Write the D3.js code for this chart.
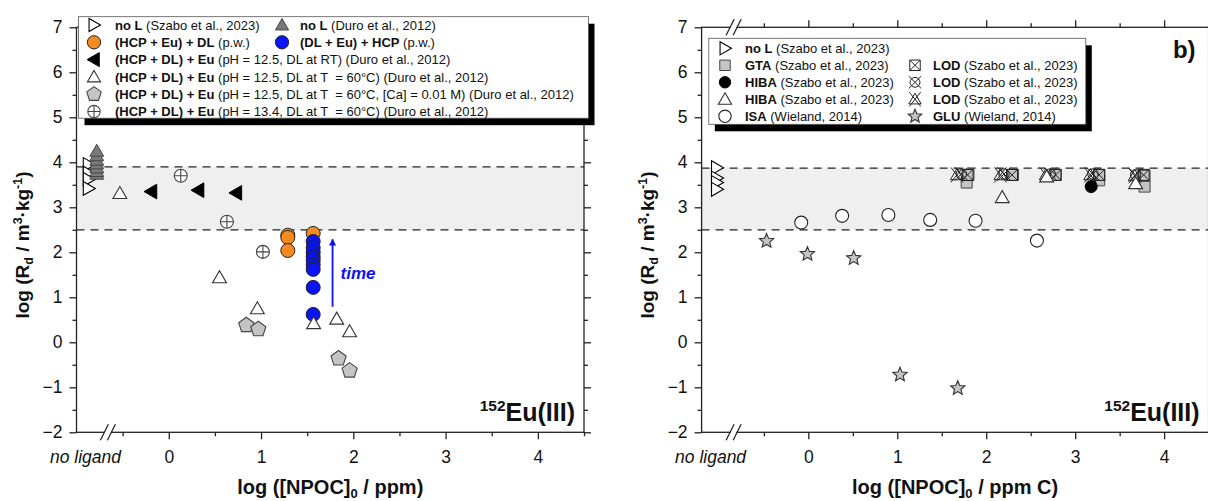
<!DOCTYPE html>
<html>
<head>
<meta charset="utf-8">
<script src="https://cdn.jsdelivr.net/npm/d3@7"></script>
<style>
  html, body { margin: 0; padding: 0; background: #fff; }
  svg { display: block; font-family: "Liberation Sans", Arial, sans-serif; }
  text { white-space: pre; }
</style>
</head>
<body>
<svg id="chart" width="1208" height="501"></svg>
<script>
// ---------- data ----------
const yTicks = [-2, -1, 0, 1, 2, 3, 4, 5, 6, 7];
const xTicks = [0, 1, 2, 3, 4];
const noLigandLabel = "no ligand";

// panel a: [log NPOC (ppm), log Rd (m3/kg)]
const aNoL_Szabo   = [[-0.87, 3.95], [-0.87, 3.76], [-0.87, 3.62], [-0.87, 3.42]];
const aNoL_Duro    = [[-0.78, 3.74], [-0.78, 3.80], [-0.78, 3.88], [-0.78, 3.97], [-0.78, 4.05], [-0.78, 4.15], [-0.78, 4.25]];
const aHcpEuDl     = [[1.29, 2.38], [1.29, 2.33], [1.29, 2.04], [1.565, 2.42]];
const aDlEuHcp     = [[1.565, 2.24], [1.565, 2.10], [1.565, 2.00], [1.565, 1.90], [1.565, 1.82], [1.565, 1.72], [1.565, 1.62], [1.565, 1.22], [1.565, 0.62]];
const aDuroRT      = [[-0.19, 3.35], [0.32, 3.38], [0.73, 3.32]];
const aDuro60      = [[-0.53, 3.31], [0.55, 1.44], [0.96, 0.75], [1.57, 0.42], [1.82, 0.52], [1.96, 0.24]];
const aDuro60Ca    = [[0.84, 0.38], [0.97, 0.29], [1.84, -0.36], [1.96, -0.63]];
const aDuro134     = [[0.13, 3.70], [0.63, 2.68], [1.02, 2.01]];
const aTimeArrow   = [[1.775, 0.79], [1.775, 2.29]];
const aBand        = [2.5, 3.9];

// panel b: [log NPOC (ppm C), log Rd (m3/kg)]
const bNoL_Szabo   = [[-1.03, 3.88], [-1.03, 3.65], [-1.03, 3.55], [-1.03, 3.40]];
const bGTA         = [[1.78, 3.55], [1.80, 3.72], [2.30, 3.72], [2.78, 3.72], [3.27, 3.60], [3.27, 3.72], [3.78, 3.46], [3.78, 3.70]];
const bHIBA_solid  = [[3.18, 3.46]];
const bHIBA_open   = [[2.18, 3.22], [2.68, 3.68], [3.68, 3.53]];
const bISA         = [[-0.08, 2.66], [0.38, 2.81], [0.90, 2.83], [1.37, 2.72], [1.88, 2.70], [2.57, 2.26]];
const bGLU         = [[-0.47, 2.25], [-0.01, 1.96], [0.51, 1.87], [1.03, -0.72], [1.68, -1.02]];
const bLOD_box     = [[1.79, 3.72], [2.29, 3.72], [2.78, 3.72], [3.27, 3.72], [3.77, 3.72]];
const bLOD_circle  = [[1.72, 3.74], [2.20, 3.74], [2.72, 3.74], [3.20, 3.74], [3.68, 3.72]];
const bLOD_tri     = [[1.67, 3.72], [2.16, 3.72], [2.67, 3.72], [3.17, 3.72], [3.67, 3.70]];
const bBand        = [2.5, 3.87];

// ---------- marker shapes ----------
function poly(pts) { return "M" + pts.map(p => p[0].toFixed(2) + "," + p[1].toFixed(2)).join("L") + "Z"; }
function regular(n, R, rot) {
  const pts = [];
  for (let k = 0; k < n; k++) { const a = rot + k * 2 * Math.PI / n; pts.push([R * Math.cos(a), R * Math.sin(a)]); }
  return pts;
}
const circ = R => `M${R},0A${R},${R} 0 1,1 ${-R},0A${R},${R} 0 1,1 ${R},0Z`;
const shapes = {
  triUp:    R => poly(regular(3, R, -Math.PI / 2).map(p => [p[0], p[1] + R * 0.15])),
  triRight: R => poly(regular(3, R, 0).map(p => [p[0] - R * 0.15, p[1]])),
  triLeft:  R => poly(regular(3, R, Math.PI).map(p => [p[0] + R * 0.15, p[1]])),
  pentagon: R => poly(regular(5, R, -Math.PI / 2)),
  square:   R => `M${-R},${-R}H${R}V${R}H${-R}Z`,
  circle:   R => circ(R),
  star:     R => { const p = []; for (let k = 0; k < 10; k++) { const r = k % 2 ? R * 0.45 : R; const a = -Math.PI / 2 + k * Math.PI / 5; p.push([r * Math.cos(a), r * Math.sin(a)]); } return poly(p); },
  circlePlus: R => circ(R) + `M${-R},0H${R}M0,${-R}V${R}`,
  boxX:     R => `M${-R},${-R}H${R}V${R}H${-R}Z` + `M${-R},${-R}L${R},${R}M${R},${-R}L${-R},${R}`,
  circleX:  R => circ(R * 0.8) + `M${-R},${-R}L${R},${R}M${R},${-R}L${-R},${R}`,
  triX:     R => poly(regular(3, R, -Math.PI / 2).map(p => [p[0], p[1] + R * 0.15])) + `M${-R * 0.8},${-R}L${R * 0.8},${R}M${R * 0.8},${-R}L${-R * 0.8},${R}`
};

// ---------- styles ----------
const ORANGE = "#f58a1f", BLUE = "#0a14f5", GREY = "#c4c4c4", DARKGREY = "#7a7a7a";
const styleA = [
  { data: aNoL_Szabo, shape: "triRight", R: 8, fill: "#fff", stroke: "#000", sw: 1.1 },
  { data: aNoL_Duro,  shape: "triUp",    R: 8, fill: DARKGREY, stroke: "#444", sw: 1.0 },
  { data: aHcpEuDl,   shape: "circle",   R: 7, fill: ORANGE, stroke: "#222", sw: 1.0 },
  { data: aDlEuHcp,   shape: "circle",   R: 7, fill: BLUE, stroke: "#222", sw: 1.0 },
  { data: aDuroRT,    shape: "triLeft",  R: 8.5, fill: "#000", stroke: "#000", sw: 1.0 },
  { data: aDuro60,    shape: "triUp",    R: 8, fill: "#fff", stroke: "#333", sw: 1.1 },
  { data: aDuro60Ca,  shape: "pentagon", R: 8, fill: GREY, stroke: "#444", sw: 1.1 },
  { data: aDuro134,   shape: "circlePlus", R: 6.5, fill: "#fff", stroke: "#444", sw: 1.1 }
];
const styleB = [
  { data: bNoL_Szabo,  shape: "triRight", R: 8, fill: "#fff", stroke: "#000", sw: 1.1 },
  { data: bGTA,        shape: "square",   R: 5.5, fill: GREY, stroke: "#444", sw: 1.0 },
  { data: bHIBA_solid, shape: "circle",   R: 6, fill: "#000", stroke: "#000", sw: 1.0 },
  { data: bLOD_box,    shape: "boxX",     R: 5.5, fill: "none", stroke: "#222", sw: 1.0 },
  { data: bLOD_circle, shape: "circleX",  R: 6.5, fill: "none", stroke: "#222", sw: 1.0 },
  { data: bLOD_tri,    shape: "triX",     R: 7.5, fill: "none", stroke: "#222", sw: 1.0 },
  { data: bHIBA_open,  shape: "triUp",    R: 8, fill: "#fff", stroke: "#333", sw: 1.1 },
  { data: bISA,        shape: "circle",   R: 6.5, fill: "#fff", stroke: "#222", sw: 1.1 },
  { data: bGLU,        shape: "star",     R: 7.5, fill: GREY, stroke: "#333", sw: 1.1 }
];

// ---------- layout ----------
const svg = d3.select("#chart");
const yTop = 27.3, yBot = 432.3;
const y = d3.scaleLinear().domain([-2, 7]).range([yBot, yTop]);
const xA = d3.scaleLinear().domain([-1, 4.5]).range([76.5, 584]);
const xB = d3.scaleLinear().domain([-1.2, 4.5]).range([701.6, 1208.6]);
const fmt = d => d < 0 ? "\u2212" + Math.abs(d) : String(d);
const minorY = d3.range(-1.5, 7, 1);
const TICK_FONT = 17.5;

function drawPanel(x, band, series, breakAt, xTitle, tag) {
  const g = svg.append("g");
  const [x0, x1] = x.range();
  // shaded range
  g.append("rect").attr("x", x0).attr("width", x1 - x0)
    .attr("y", y(band[1])).attr("height", y(band[0]) - y(band[1])).attr("fill", "#efefef");
  band.forEach(v => g.append("line").attr("x1", x0).attr("x2", x1).attr("y1", y(v)).attr("y2", y(v))
    .attr("stroke", "#222").attr("stroke-width", 1.3).attr("stroke-dasharray", "8,6"));

  // axes
  const xMinor = d3.range(-0.5, 4.6, 1).filter(v => v <= x.domain()[1]);
  const axStyle = sel => { sel.selectAll("path,line").attr("stroke", "#222").attr("stroke-width", 1.3); sel.select(".domain").remove(); };
  g.append("g").attr("transform", `translate(${x0},0)`)
    .call(d3.axisLeft(y).tickValues(yTicks).tickSize(7).tickPadding(7).tickFormat(fmt)).call(axStyle)
    .selectAll("text").attr("font-size", TICK_FONT).attr("font-family", "Liberation Sans, Arial").attr("fill", "#111");
  g.append("g").attr("transform", `translate(${x0},0)`)
    .call(d3.axisLeft(y).tickValues(minorY).tickSize(4).tickFormat("")).call(axStyle);
  g.append("g").attr("transform", `translate(${x1},0)`)
    .call(d3.axisRight(y).tickValues(yTicks).tickSize(7).tickFormat("")).call(axStyle);
  g.append("g").attr("transform", `translate(${x1},0)`)
    .call(d3.axisRight(y).tickValues(minorY).tickSize(4).tickFormat("")).call(axStyle);
  const xb = g.append("g").attr("transform", `translate(0,${yBot})`)
    .call(d3.axisBottom(x).tickValues(xTicks).tickSize(7).tickPadding(11).tickFormat(fmt)).call(axStyle);
  xb.selectAll("text").attr("font-size", TICK_FONT).attr("font-family", "Liberation Sans, Arial").attr("fill", "#111");
  g.append("g").attr("transform", `translate(0,${yBot})`)
    .call(d3.axisBottom(x).tickValues(xMinor).tickSize(4).tickFormat("")).call(axStyle);
  g.append("g").attr("transform", `translate(0,${yTop})`)
    .call(d3.axisTop(x).tickValues(xTicks).tickSize(7).tickFormat("")).call(axStyle);
  g.append("g").attr("transform", `translate(0,${yTop})`)
    .call(d3.axisTop(x).tickValues(xMinor).tickSize(4).tickFormat("")).call(axStyle);
  // frame
  g.append("rect").attr("x", x0).attr("y", yTop).attr("width", x1 - x0).attr("height", yBot - yTop)
    .attr("fill", "none").attr("stroke", "#222").attr("stroke-width", 1.3);

  // axis break marks
  [yTop, yBot].forEach(yy => {
    const bx = x(breakAt);
    g.append("rect").attr("x", bx - 3).attr("y", yy - 2).attr("width", 6).attr("height", 4).attr("fill", "#fff");
    [-3.5, 3.5].forEach(dx => g.append("line")
      .attr("x1", bx + dx - 4).attr("y1", yy + 8).attr("x2", bx + dx + 4).attr("y2", yy - 8)
      .attr("stroke", "#222").attr("stroke-width", 1.3));
  });

  g.append("text").attr("x", x0 + 9).attr("y", yBot + 31).attr("text-anchor", "middle")
    .attr("font-size", TICK_FONT).attr("font-style", "italic").attr("fill", "#111").text(noLigandLabel);

  // markers
  series.forEach(s => {
    g.append("g").selectAll("path").data(s.data).join("path")
      .attr("transform", d => `translate(${x(d[0])},${y(d[1])})`)
      .attr("d", shapes[s.shape](s.R))
      .attr("fill", s.fill).attr("stroke", s.stroke).attr("stroke-width", s.sw);
  });

  // axis title
  const t = g.append("text").attr("x", (x0 + x1) / 2).attr("y", 494).attr("text-anchor", "middle")
    .attr("font-size", 20).attr("font-weight", "bold").attr("fill", "#111");
  xTitle.forEach(p => {
    const ts = t.append("tspan").text(p.t);
    if (p.sub) ts.attr("font-size", 13).attr("dy", 4);
    if (p.after) ts.attr("dy", -4);
  });

  // y-axis title
  const yt = g.append("text").attr("transform", `translate(${x0 - 47.5},245) rotate(-90)`)
    .attr("text-anchor", "middle").attr("font-size", 19).attr("font-weight", "bold").attr("fill", "#111");
  yt.append("tspan").text("log (R");
  yt.append("tspan").text("d").attr("font-size", 12.5).attr("dy", 4);
  yt.append("tspan").text(" / m").attr("dy", -4);
  yt.append("tspan").text("3").attr("font-size", 12.5).attr("dy", -7);
  yt.append("tspan").text("\u00B7kg").attr("dy", 7);
  yt.append("tspan").text("-1").attr("font-size", 12.5).attr("dy", -7);
  yt.append("tspan").text(")").attr("dy", 7);

  // isotope label
  const iso = g.append("text").attr("x", x1 - 9).attr("y", 421).attr("text-anchor", "end")
    .attr("font-weight", "bold").attr("fill", "#111").attr("font-size", 25);
  iso.append("tspan").text("152").attr("font-size", 15.5).attr("dy", -10);
  iso.append("tspan").text("Eu(III)").attr("dy", 10);

  // panel tag
  g.append("text").attr("x", x1 - 13).attr("y", 58).attr("text-anchor", "end")
    .attr("font-size", 24).attr("font-weight", "bold").attr("fill", "#111").text(tag);
  return g;
}

const gA = drawPanel(xA, aBand, styleA, -0.66,
  [{ t: "log ([NPOC]" }, { t: "0", sub: true }, { t: " / ppm)", after: true }], "a)");
const gB = drawPanel(xB, bBand, styleB, -0.84,
  [{ t: "log ([NPOC]" }, { t: "0", sub: true }, { t: " / ppm C)", after: true }], "b)");

// time arrow in panel a
gA.append("defs").append("marker").attr("id", "arrowHead").attr("viewBox", "0 0 10 10")
  .attr("refX", 9).attr("refY", 5).attr("markerWidth", 7).attr("markerHeight", 9)
  .attr("markerUnits", "userSpaceOnUse").attr("orient", "auto")
  .append("path").attr("d", "M0,0L10,5L0,10Z").attr("fill", BLUE);
gA.append("line")
  .attr("x1", xA(aTimeArrow[0][0])).attr("y1", y(aTimeArrow[0][1]))
  .attr("x2", xA(aTimeArrow[1][0])).attr("y2", y(aTimeArrow[1][1]))
  .attr("stroke", BLUE).attr("stroke-width", 1.8).attr("marker-end", "url(#arrowHead)");
gA.append("text").attr("x", xA(aTimeArrow[0][0]) + 8).attr("y", y(1.55) + 6)
  .attr("font-size", 17).attr("font-weight", "bold").attr("font-style", "italic").attr("fill", BLUE).text("time");

// ---------- legends ----------
function legend(box, rows) {
  const g = svg.append("g");
  g.append("rect").attr("x", box.x + 6).attr("y", box.y + 7).attr("width", box.w).attr("height", box.h).attr("fill", "#000");
  g.append("rect").attr("x", box.x).attr("y", box.y).attr("width", box.w).attr("height", box.h)
    .attr("fill", "#fff").attr("stroke", "#555").attr("stroke-width", 0.8);
  rows.forEach(r => {
    g.append("path").attr("transform", `translate(${r.sx},${r.y})`).attr("d", shapes[r.s.shape](r.s.R * 0.95))
      .attr("fill", r.s.fill).attr("stroke", r.s.stroke).attr("stroke-width", r.s.sw);
    const t = g.append("text").attr("x", r.tx).attr("y", r.y + 4.6).attr("font-size", 13).attr("fill", "#111");
    t.append("tspan").attr("font-weight", "bold").text(r.bold);
    t.append("tspan").text(r.rest);
  });
}
const sA = styleA;
const legA = [
  [sA[0], "no L", " (Szabo et al., 2023)", 0, 0], [sA[1], "no L", " (Duro et al., 2012)", 1, 0],
  [sA[2], "(HCP + Eu) + DL", " (p.w.)", 0, 1], [sA[3], "(DL + Eu) + HCP", " (p.w.)", 1, 1],
  [sA[4], "(HCP + DL) + Eu", " (pH = 12.5, DL at RT) (Duro et al., 2012)", 0, 2],
  [sA[5], "(HCP + DL) + Eu", " (pH = 12.5, DL at T  = 60\u00B0C) (Duro et al., 2012)", 0, 3],
  [sA[6], "(HCP + DL) + Eu", " (pH = 12.5, DL at T  = 60\u00B0C, [Ca] = 0.01 M) (Duro et al., 2012)", 0, 4],
  [sA[7], "(HCP + DL) + Eu", " (pH = 13.4, DL at T  = 60\u00B0C) (Duro et al., 2012)", 0, 5]
].map(([s, b, r, c, i]) => ({ s, bold: b, rest: r, sx: c ? 282 : 94, tx: c ? 300 : 115, y: 25 + i * 17.3 }));
legend({ x: 78.5, y: 16.7, w: 510, h: 101.5 }, legA);

const sB = styleB;
const legB = [
  [sB[0], "no L", " (Szabo et al., 2023)", 0, 0],
  [sB[1], "GTA", " (Szabo et al., 2023)", 0, 1], [sB[3], "LOD", " (Szabo et al., 2023)", 1, 1],
  [sB[2], "HIBA", " (Szabo et al., 2023)", 0, 2], [sB[4], "LOD", " (Szabo et al., 2023)", 1, 2],
  [sB[6], "HIBA", " (Szabo et al., 2023)", 0, 3], [sB[5], "LOD", " (Szabo et al., 2023)", 1, 3],
  [sB[7], "ISA", " (Wieland, 2014)", 0, 4], [sB[8], "GLU", " (Wieland, 2014)", 1, 4]
].map(([s, b, r, c, i]) => ({ s, bold: b, rest: r, sx: c ? 915 : 725, tx: c ? 933 : 745, y: 48.3 + i * 17 }));
legend({ x: 708.8, y: 38.3, w: 377, h: 86 }, legB);
</script>
</body>
</html>
